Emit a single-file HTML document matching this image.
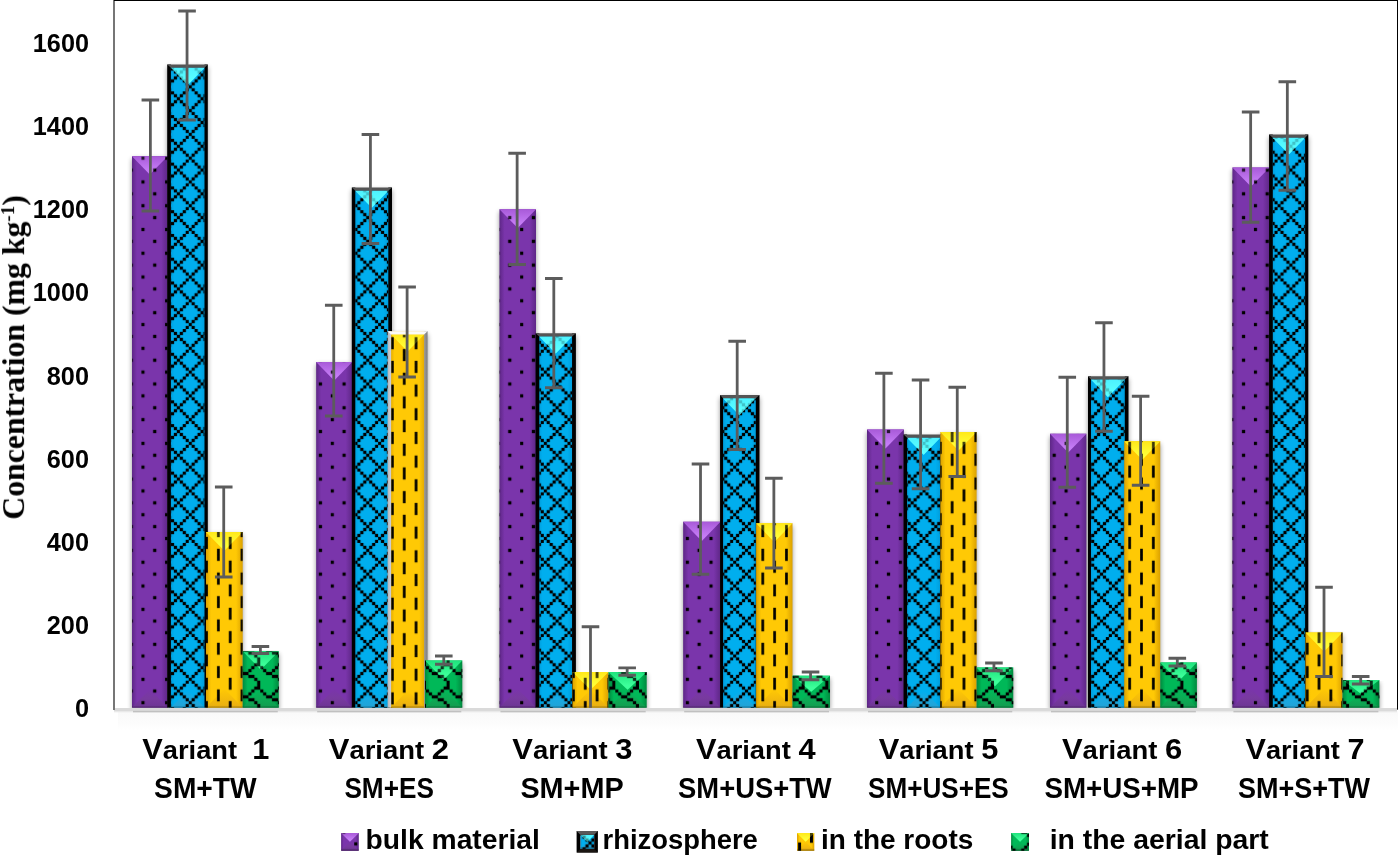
<!DOCTYPE html>
<html><head><meta charset="utf-8"><title>chart</title>
<style>
html,body{margin:0;padding:0;background:#fff;}
body{width:1398px;height:856px;overflow:hidden;}
svg{display:block;}
text{font-family:"Liberation Sans",sans-serif;font-weight:bold;fill:#000;}
</style></head><body>
<svg width="1398" height="856" viewBox="0 0 1398 856">
<defs>
<pattern id="pp1" patternUnits="userSpaceOnUse" width="23.67" height="23.77" patternTransform="translate(-0.6 -3.76)">
<rect x="11.685" y="5.792" width="3.259" height="3.271" fill="#000"/>
<rect x="-0.150" y="17.678" width="3.259" height="3.271" fill="#000"/>
</pattern>
<pattern id="pb1" patternUnits="userSpaceOnUse" width="23.67" height="23.77" patternTransform="translate(-0.6 -3.76)">
<rect x="5.768" y="-0.150" width="3.259" height="3.271" fill="#000"/>
<rect x="17.603" y="-0.150" width="3.259" height="3.271" fill="#000"/>
<rect x="8.726" y="2.821" width="3.259" height="3.271" fill="#000"/>
<rect x="14.644" y="2.821" width="3.259" height="3.271" fill="#000"/>
<rect x="11.685" y="5.792" width="3.259" height="3.271" fill="#000"/>
<rect x="8.726" y="8.764" width="3.259" height="3.271" fill="#000"/>
<rect x="14.644" y="8.764" width="3.259" height="3.271" fill="#000"/>
<rect x="5.768" y="11.735" width="3.259" height="3.271" fill="#000"/>
<rect x="17.603" y="11.735" width="3.259" height="3.271" fill="#000"/>
<rect x="2.809" y="14.706" width="3.259" height="3.271" fill="#000"/>
<rect x="20.561" y="14.706" width="3.259" height="3.271" fill="#000"/>
<rect x="-0.150" y="17.678" width="3.259" height="3.271" fill="#000"/>
<rect x="2.809" y="20.649" width="3.259" height="3.271" fill="#000"/>
<rect x="20.561" y="20.649" width="3.259" height="3.271" fill="#000"/>
</pattern>
<pattern id="py1" patternUnits="userSpaceOnUse" width="23.67" height="23.77" patternTransform="translate(0.9 -3.76)">
<rect x="14.944" y="-0.150" width="2.659" height="3.271" fill="#000"/>
<rect x="14.944" y="2.821" width="2.659" height="3.271" fill="#000"/>
<rect x="3.109" y="5.792" width="2.659" height="3.271" fill="#000"/>
<rect x="3.109" y="8.764" width="2.659" height="3.271" fill="#000"/>
<rect x="3.109" y="11.735" width="2.659" height="3.271" fill="#000"/>
<rect x="3.109" y="14.706" width="2.659" height="3.271" fill="#000"/>
<rect x="14.944" y="17.678" width="2.659" height="3.271" fill="#000"/>
<rect x="14.944" y="20.649" width="2.659" height="3.271" fill="#000"/>
</pattern>
<pattern id="pg1" patternUnits="userSpaceOnUse" width="23.67" height="23.77" patternTransform="translate(-0.1 -3.76)">
<rect x="20.561" y="-0.150" width="3.259" height="3.271" fill="#000"/>
<rect x="17.603" y="2.821" width="6.218" height="3.271" fill="#000"/>
<rect x="-0.150" y="5.792" width="3.259" height="3.271" fill="#000"/>
<rect x="14.644" y="5.792" width="3.259" height="3.271" fill="#000"/>
<rect x="2.809" y="8.764" width="3.259" height="3.271" fill="#000"/>
<rect x="11.685" y="8.764" width="3.259" height="3.271" fill="#000"/>
<rect x="5.768" y="11.735" width="6.218" height="3.271" fill="#000"/>
<rect x="11.685" y="14.706" width="6.218" height="3.271" fill="#000"/>
<rect x="17.603" y="17.678" width="3.259" height="3.271" fill="#000"/>
<rect x="20.561" y="20.649" width="3.259" height="3.271" fill="#000"/>
</pattern>
<pattern id="pp2" patternUnits="userSpaceOnUse" width="23.67" height="23.33" patternTransform="translate(-0.6 567.08)">
<rect x="11.685" y="5.682" width="3.259" height="3.216" fill="#000"/>
<rect x="-0.150" y="17.348" width="3.259" height="3.216" fill="#000"/>
</pattern>
<pattern id="pb2" patternUnits="userSpaceOnUse" width="23.67" height="23.33" patternTransform="translate(-0.6 567.08)">
<rect x="5.768" y="-0.150" width="3.259" height="3.216" fill="#000"/>
<rect x="17.603" y="-0.150" width="3.259" height="3.216" fill="#000"/>
<rect x="8.726" y="2.766" width="3.259" height="3.216" fill="#000"/>
<rect x="14.644" y="2.766" width="3.259" height="3.216" fill="#000"/>
<rect x="11.685" y="5.682" width="3.259" height="3.216" fill="#000"/>
<rect x="8.726" y="8.599" width="3.259" height="3.216" fill="#000"/>
<rect x="14.644" y="8.599" width="3.259" height="3.216" fill="#000"/>
<rect x="5.768" y="11.515" width="3.259" height="3.216" fill="#000"/>
<rect x="17.603" y="11.515" width="3.259" height="3.216" fill="#000"/>
<rect x="2.809" y="14.431" width="3.259" height="3.216" fill="#000"/>
<rect x="20.561" y="14.431" width="3.259" height="3.216" fill="#000"/>
<rect x="-0.150" y="17.348" width="3.259" height="3.216" fill="#000"/>
<rect x="2.809" y="20.264" width="3.259" height="3.216" fill="#000"/>
<rect x="20.561" y="20.264" width="3.259" height="3.216" fill="#000"/>
</pattern>
<pattern id="py2" patternUnits="userSpaceOnUse" width="23.67" height="23.33" patternTransform="translate(0.9 567.08)">
<rect x="14.944" y="-0.150" width="2.659" height="3.216" fill="#000"/>
<rect x="14.944" y="2.766" width="2.659" height="3.216" fill="#000"/>
<rect x="3.109" y="5.682" width="2.659" height="3.216" fill="#000"/>
<rect x="3.109" y="8.599" width="2.659" height="3.216" fill="#000"/>
<rect x="3.109" y="11.515" width="2.659" height="3.216" fill="#000"/>
<rect x="3.109" y="14.431" width="2.659" height="3.216" fill="#000"/>
<rect x="14.944" y="17.348" width="2.659" height="3.216" fill="#000"/>
<rect x="14.944" y="20.264" width="2.659" height="3.216" fill="#000"/>
</pattern>
<pattern id="pg2" patternUnits="userSpaceOnUse" width="23.67" height="23.33" patternTransform="translate(-0.1 567.08)">
<rect x="20.561" y="-0.150" width="3.259" height="3.216" fill="#000"/>
<rect x="17.603" y="2.766" width="6.218" height="3.216" fill="#000"/>
<rect x="-0.150" y="5.682" width="3.259" height="3.216" fill="#000"/>
<rect x="14.644" y="5.682" width="3.259" height="3.216" fill="#000"/>
<rect x="2.809" y="8.599" width="3.259" height="3.216" fill="#000"/>
<rect x="11.685" y="8.599" width="3.259" height="3.216" fill="#000"/>
<rect x="5.768" y="11.515" width="6.218" height="3.216" fill="#000"/>
<rect x="11.685" y="14.431" width="6.218" height="3.216" fill="#000"/>
<rect x="17.603" y="17.348" width="3.259" height="3.216" fill="#000"/>
<rect x="20.561" y="20.264" width="3.259" height="3.216" fill="#000"/>
</pattern>
<linearGradient id="hp" x1="0" x2="1" y1="0" y2="0"><stop offset="0" stop-color="#5e2787"/><stop offset="0.14" stop-color="#7a35ab"/><stop offset="0.5" stop-color="#7a35ab"/><stop offset="0.82" stop-color="#7a35ab"/><stop offset="1" stop-color="#5e2787"/></linearGradient>
<linearGradient id="tp" x1="0" x2="0" y1="0" y2="1"><stop offset="0" stop-color="#a85ad8"/><stop offset="0.75" stop-color="#c57cf6"/><stop offset="1" stop-color="#c57cf6"/></linearGradient>
<linearGradient id="hb" x1="0" x2="1" y1="0" y2="0"><stop offset="0" stop-color="#0098d6"/><stop offset="0.14" stop-color="#00aeee"/><stop offset="0.5" stop-color="#00aeee"/><stop offset="0.82" stop-color="#00aeee"/><stop offset="1" stop-color="#0098d6"/></linearGradient>
<linearGradient id="tb" x1="0" x2="0" y1="0" y2="1"><stop offset="0" stop-color="#4df2ff"/><stop offset="0.75" stop-color="#5affff"/><stop offset="1" stop-color="#5affff"/></linearGradient>
<linearGradient id="hy" x1="0" x2="1" y1="0" y2="0"><stop offset="0" stop-color="#dba100"/><stop offset="0.14" stop-color="#ffc905"/><stop offset="0.5" stop-color="#ffc905"/><stop offset="0.82" stop-color="#ffc905"/><stop offset="1" stop-color="#dba100"/></linearGradient>
<linearGradient id="ty" x1="0" x2="0" y1="0" y2="1"><stop offset="0" stop-color="#ffe81a"/><stop offset="0.75" stop-color="#ffff38"/><stop offset="1" stop-color="#ffff38"/></linearGradient>
<linearGradient id="hg" x1="0" x2="1" y1="0" y2="0"><stop offset="0" stop-color="#008a3e"/><stop offset="0.14" stop-color="#00b858"/><stop offset="0.5" stop-color="#00b858"/><stop offset="0.82" stop-color="#00b858"/><stop offset="1" stop-color="#008a3e"/></linearGradient>
<linearGradient id="tg" x1="0" x2="0" y1="0" y2="1"><stop offset="0" stop-color="#1fe37d"/><stop offset="0.75" stop-color="#3dff9a"/><stop offset="1" stop-color="#3dff9a"/></linearGradient>
<filter id="sh" x="-30%" y="-5%" width="160%" height="110%"><feGaussianBlur stdDeviation="2.4"/></filter>
<linearGradient id="ff" x1="0" x2="0" y1="0" y2="1"><stop offset="0" stop-color="#f9f9f9"/><stop offset="0.6" stop-color="#fcfcfc"/><stop offset="1" stop-color="#ffffff"/></linearGradient>
<filter id="sh1" x="-5%" y="-200%" width="110%" height="500%"><feGaussianBlur stdDeviation="0.7"/></filter>
<linearGradient id="lip" x1="0" x2="0" y1="0" y2="1"><stop offset="0" stop-color="#000" stop-opacity="0"/><stop offset="1" stop-color="#000" stop-opacity="0.28"/></linearGradient>
<linearGradient id="gbl" x1="0" x2="1" y1="0" y2="0"><stop offset="0" stop-color="#b4b4b4"/><stop offset="1" stop-color="#d2d2dc"/></linearGradient>
<linearGradient id="gbr" x1="0" x2="1" y1="0" y2="0"><stop offset="0" stop-color="#9a9a9a"/><stop offset="1" stop-color="#7e7e7e"/></linearGradient>
<linearGradient id="btp" x1="0" x2="0" y1="0" y2="1"><stop offset="0" stop-color="#7a35ab"/><stop offset="0.5" stop-color="#783a9f"/><stop offset="1" stop-color="#6d3594"/></linearGradient>
<linearGradient id="btb" x1="0" x2="0" y1="0" y2="1"><stop offset="0" stop-color="#00aeee"/><stop offset="0.5" stop-color="#18a9e2"/><stop offset="1" stop-color="#23a3d6"/></linearGradient>
<linearGradient id="bty" x1="0" x2="0" y1="0" y2="1"><stop offset="0" stop-color="#ffc905"/><stop offset="0.5" stop-color="#f5bc0a"/><stop offset="1" stop-color="#e8ae12"/></linearGradient>
<linearGradient id="btg" x1="0" x2="0" y1="0" y2="1"><stop offset="0" stop-color="#00b858"/><stop offset="0.5" stop-color="#0cab55"/><stop offset="1" stop-color="#129c50"/></linearGradient>
<pattern id="pyS" patternUnits="userSpaceOnUse" width="23.67" height="23.68" patternTransform="translate(387.96 331.38)">
<rect x="14.944" y="-0.150" width="2.659" height="3.260" fill="#000"/>
<rect x="14.944" y="2.810" width="2.659" height="3.260" fill="#000"/>
<rect x="3.109" y="5.770" width="2.659" height="3.260" fill="#000"/>
<rect x="3.109" y="8.730" width="2.659" height="3.260" fill="#000"/>
<rect x="3.109" y="11.690" width="2.659" height="3.260" fill="#000"/>
<rect x="3.109" y="14.650" width="2.659" height="3.260" fill="#000"/>
<rect x="14.944" y="17.610" width="2.659" height="3.260" fill="#000"/>
<rect x="14.944" y="20.570" width="2.659" height="3.260" fill="#000"/>
</pattern>
<clipPath id="plotclip"><rect x="0" y="0" width="1398" height="707.8"/></clipPath>
<linearGradient id="lip2" x1="0" x2="0" y1="0" y2="1"><stop offset="0" stop-color="#000" stop-opacity="0"/><stop offset="1" stop-color="#000" stop-opacity="0.38"/></linearGradient>
<pattern id="ppL" patternUnits="userSpaceOnUse" width="23.67" height="23.67" patternTransform="translate(354.22 824.67)">
<rect x="11.685" y="5.768" width="3.259" height="3.259" fill="#000"/>
<rect x="-0.150" y="17.603" width="3.259" height="3.259" fill="#000"/>
</pattern>
<pattern id="pbL" patternUnits="userSpaceOnUse" width="23.67" height="23.67" patternTransform="translate(576.7 835.6)">
<rect x="5.768" y="-0.150" width="3.259" height="3.259" fill="#000"/>
<rect x="17.603" y="-0.150" width="3.259" height="3.259" fill="#000"/>
<rect x="8.726" y="2.809" width="3.259" height="3.259" fill="#000"/>
<rect x="14.644" y="2.809" width="3.259" height="3.259" fill="#000"/>
<rect x="11.685" y="5.768" width="3.259" height="3.259" fill="#000"/>
<rect x="8.726" y="8.726" width="3.259" height="3.259" fill="#000"/>
<rect x="14.644" y="8.726" width="3.259" height="3.259" fill="#000"/>
<rect x="5.768" y="11.685" width="3.259" height="3.259" fill="#000"/>
<rect x="17.603" y="11.685" width="3.259" height="3.259" fill="#000"/>
<rect x="2.809" y="14.644" width="3.259" height="3.259" fill="#000"/>
<rect x="20.561" y="14.644" width="3.259" height="3.259" fill="#000"/>
<rect x="-0.150" y="17.603" width="3.259" height="3.259" fill="#000"/>
<rect x="2.809" y="20.561" width="3.259" height="3.259" fill="#000"/>
<rect x="20.561" y="20.561" width="3.259" height="3.259" fill="#000"/>
</pattern>
<pattern id="pyL" patternUnits="userSpaceOnUse" width="23.67" height="23.67" patternTransform="translate(795.18 836.7)">
<rect x="14.794" y="-0.150" width="2.959" height="3.259" fill="#000"/>
<rect x="14.794" y="2.809" width="2.959" height="3.259" fill="#000"/>
<rect x="2.959" y="5.768" width="2.959" height="3.259" fill="#000"/>
<rect x="2.959" y="8.726" width="2.959" height="3.259" fill="#000"/>
<rect x="2.959" y="11.685" width="2.959" height="3.259" fill="#000"/>
<rect x="2.959" y="14.644" width="2.959" height="3.259" fill="#000"/>
<rect x="14.794" y="17.603" width="2.959" height="3.259" fill="#000"/>
<rect x="14.794" y="20.561" width="2.959" height="3.259" fill="#000"/>
</pattern>
<pattern id="pgL" patternUnits="userSpaceOnUse" width="23.67" height="23.67" patternTransform="translate(1009.5 816.14)">
<rect x="20.561" y="-0.150" width="3.259" height="3.259" fill="#000"/>
<rect x="17.603" y="2.809" width="6.218" height="3.259" fill="#000"/>
<rect x="-0.150" y="5.768" width="3.259" height="3.259" fill="#000"/>
<rect x="14.644" y="5.768" width="3.259" height="3.259" fill="#000"/>
<rect x="2.809" y="8.726" width="3.259" height="3.259" fill="#000"/>
<rect x="11.685" y="8.726" width="3.259" height="3.259" fill="#000"/>
<rect x="5.768" y="11.685" width="6.218" height="3.259" fill="#000"/>
<rect x="11.685" y="14.644" width="6.218" height="3.259" fill="#000"/>
<rect x="17.603" y="17.603" width="3.259" height="3.259" fill="#000"/>
<rect x="20.561" y="20.561" width="3.259" height="3.259" fill="#000"/>
</pattern>
</defs>
<rect width="1398" height="856" fill="#fff"/>
<rect x="132.00" y="158.70" width="35.60" height="551.90" fill="#000" opacity="0.42" filter="url(#sh)"/>
<rect x="167.20" y="67.00" width="40.60" height="643.60" fill="#000" opacity="0.42" filter="url(#sh)"/>
<rect x="206.00" y="534.50" width="36.70" height="176.10" fill="#000" opacity="0.42" filter="url(#sh)"/>
<rect x="242.70" y="653.70" width="36.10" height="56.90" fill="#000" opacity="0.42" filter="url(#sh)"/>
<rect x="316.16" y="364.50" width="36.04" height="346.10" fill="#000" opacity="0.42" filter="url(#sh)"/>
<rect x="351.80" y="190.00" width="40.20" height="520.60" fill="#000" opacity="0.42" filter="url(#sh)"/>
<rect x="387.60" y="334.00" width="39.95" height="376.60" fill="#000" opacity="0.42" filter="url(#sh)"/>
<rect x="425.00" y="663.00" width="37.30" height="47.60" fill="#000" opacity="0.42" filter="url(#sh)"/>
<rect x="499.44" y="211.75" width="36.56" height="498.85" fill="#000" opacity="0.42" filter="url(#sh)"/>
<rect x="535.55" y="335.80" width="40.35" height="374.80" fill="#000" opacity="0.42" filter="url(#sh)"/>
<rect x="572.50" y="674.60" width="36.00" height="36.00" fill="#000" opacity="0.42" filter="url(#sh)"/>
<rect x="608.50" y="674.60" width="38.20" height="36.00" fill="#000" opacity="0.42" filter="url(#sh)"/>
<rect x="683.15" y="524.25" width="37.25" height="186.35" fill="#000" opacity="0.42" filter="url(#sh)"/>
<rect x="720.06" y="397.60" width="39.44" height="313.00" fill="#000" opacity="0.42" filter="url(#sh)"/>
<rect x="756.10" y="525.75" width="36.40" height="184.85" fill="#000" opacity="0.42" filter="url(#sh)"/>
<rect x="792.50" y="678.25" width="37.50" height="32.35" fill="#000" opacity="0.42" filter="url(#sh)"/>
<rect x="867.00" y="432.00" width="36.90" height="278.60" fill="#000" opacity="0.42" filter="url(#sh)"/>
<rect x="903.50" y="437.00" width="40.40" height="273.60" fill="#000" opacity="0.42" filter="url(#sh)"/>
<rect x="940.35" y="434.50" width="36.25" height="276.10" fill="#000" opacity="0.42" filter="url(#sh)"/>
<rect x="976.60" y="670.00" width="36.66" height="40.60" fill="#000" opacity="0.42" filter="url(#sh)"/>
<rect x="1050.00" y="436.25" width="36.40" height="274.35" fill="#000" opacity="0.42" filter="url(#sh)"/>
<rect x="1088.00" y="378.80" width="40.50" height="331.80" fill="#000" opacity="0.42" filter="url(#sh)"/>
<rect x="1124.20" y="443.75" width="36.06" height="266.85" fill="#000" opacity="0.42" filter="url(#sh)"/>
<rect x="1160.26" y="665.00" width="36.64" height="45.60" fill="#000" opacity="0.42" filter="url(#sh)"/>
<rect x="1232.40" y="170.00" width="37.10" height="540.60" fill="#000" opacity="0.42" filter="url(#sh)"/>
<rect x="1269.06" y="137.00" width="39.24" height="573.60" fill="#000" opacity="0.42" filter="url(#sh)"/>
<rect x="1305.50" y="635.00" width="37.00" height="75.60" fill="#000" opacity="0.42" filter="url(#sh)"/>
<rect x="1342.50" y="682.50" width="36.90" height="28.10" fill="#000" opacity="0.42" filter="url(#sh)"/>
<rect x="118" y="711.5" width="1280" height="19" fill="url(#ff)"/>
<rect x="114.0" y="708.0" width="1283.0" height="3.0" fill="#dadada"/>
<rect x="114.0" y="711" width="1283.0" height="1.3" fill="#e9e9e9"/>
<rect x="133.00" y="710.9" width="144.80" height="1.5" fill="#000" opacity="0.17" filter="url(#sh1)"/>
<rect x="317.16" y="710.9" width="144.14" height="1.5" fill="#000" opacity="0.17" filter="url(#sh1)"/>
<rect x="500.44" y="710.9" width="145.26" height="1.5" fill="#000" opacity="0.17" filter="url(#sh1)"/>
<rect x="684.15" y="710.9" width="144.85" height="1.5" fill="#000" opacity="0.17" filter="url(#sh1)"/>
<rect x="868.00" y="710.9" width="144.26" height="1.5" fill="#000" opacity="0.17" filter="url(#sh1)"/>
<rect x="1051.00" y="710.9" width="144.90" height="1.5" fill="#000" opacity="0.17" filter="url(#sh1)"/>
<rect x="1233.40" y="710.9" width="145.00" height="1.5" fill="#000" opacity="0.17" filter="url(#sh1)"/>
<rect x="132.00" y="156.20" width="35.60" height="551.40" fill="url(#hp)"/>
<polygon points="132.00,707.60 167.60,707.60 149.80,689.30" fill="url(#btp)"/>
<polygon points="132.00,156.20 167.60,156.20 149.80,174.50" fill="url(#tp)"/>
<rect x="132.00" y="156.20" width="35.60" height="431.80" fill="url(#pp1)"/>
<rect x="132.00" y="588.00" width="35.60" height="119.60" fill="url(#pp2)"/>
<polygon points="132.00,156.20 167.60,156.20 149.80,174.50" fill="url(#tp)" opacity="0.22"/>
<rect x="132.00" y="705.40" width="35.60" height="2.2" fill="url(#lip)"/>
<rect x="169.05" y="66.20" width="37.10" height="641.40" fill="url(#hb)"/>
<polygon points="170.90,707.60 204.50,707.60 187.70,690.30" fill="url(#btb)"/>
<polygon points="170.90,67.70 204.50,67.70 187.70,85.00" fill="url(#tb)"/>
<rect x="170.90" y="67.70" width="33.60" height="520.30" fill="url(#pb1)"/>
<rect x="170.90" y="588.00" width="33.60" height="119.60" fill="url(#pb2)"/>
<polygon points="170.90,67.70 204.50,67.70 187.70,85.00" fill="url(#tb)" opacity="0.78"/>
<rect x="170.90" y="705.40" width="33.60" height="2.2" fill="url(#lip)"/>
<rect x="167.20" y="64.50" width="3.70" height="643.10" fill="#000"/>
<rect x="204.50" y="64.50" width="3.30" height="643.10" fill="#000"/>
<polygon points="167.20,64.50 207.80,64.50 204.50,67.70 170.90,67.70" fill="#555"/>
<rect x="206.00" y="532.00" width="36.70" height="175.60" fill="url(#hy)"/>
<polygon points="206.00,707.60 242.70,707.60 224.35,688.75" fill="url(#bty)"/>
<polygon points="206.00,532.00 242.70,532.00 224.35,550.85" fill="url(#ty)"/>
<rect x="206.00" y="532.00" width="36.70" height="56.00" fill="url(#py1)"/>
<rect x="206.00" y="588.00" width="36.70" height="119.60" fill="url(#py2)"/>
<polygon points="206.00,532.00 242.70,532.00 224.35,550.85" fill="url(#ty)" opacity="0.22"/>
<rect x="206.00" y="705.40" width="36.70" height="2.2" fill="url(#lip)"/>
<rect x="242.70" y="651.20" width="36.10" height="56.40" fill="url(#hg)"/>
<polygon points="242.70,707.60 278.80,707.60 260.75,689.05" fill="url(#btg)"/>
<polygon points="242.70,651.20 278.80,651.20 260.75,669.75" fill="url(#tg)"/>
<rect x="242.70" y="651.20" width="36.10" height="56.40" fill="url(#pg2)"/>
<polygon points="242.70,651.20 278.80,651.20 260.75,669.75" fill="url(#tg)" opacity="0.22"/>
<rect x="242.70" y="705.40" width="36.10" height="2.2" fill="url(#lip)"/>
<rect x="316.16" y="362.00" width="36.04" height="345.60" fill="url(#hp)"/>
<polygon points="316.16,707.60 352.20,707.60 334.18,689.08" fill="url(#btp)"/>
<polygon points="316.16,362.00 352.20,362.00 334.18,380.52" fill="url(#tp)"/>
<rect x="316.16" y="362.00" width="36.04" height="226.00" fill="url(#pp1)"/>
<rect x="316.16" y="588.00" width="36.04" height="119.60" fill="url(#pp2)"/>
<polygon points="316.16,362.00 352.20,362.00 334.18,380.52" fill="url(#tp)" opacity="0.22"/>
<rect x="316.16" y="705.40" width="36.04" height="2.2" fill="url(#lip)"/>
<rect x="353.55" y="189.20" width="36.60" height="518.40" fill="url(#hb)"/>
<polygon points="355.30,707.60 388.30,707.60 371.80,690.60" fill="url(#btb)"/>
<polygon points="355.30,190.70 388.30,190.70 371.80,207.70" fill="url(#tb)"/>
<rect x="355.30" y="190.70" width="33.00" height="397.30" fill="url(#pb1)"/>
<rect x="355.30" y="588.00" width="33.00" height="119.60" fill="url(#pb2)"/>
<polygon points="355.30,190.70 388.30,190.70 371.80,207.70" fill="url(#tb)" opacity="0.78"/>
<rect x="355.30" y="705.40" width="33.00" height="2.2" fill="url(#lip)"/>
<rect x="351.80" y="187.50" width="3.50" height="520.10" fill="#000"/>
<rect x="388.30" y="187.50" width="3.70" height="520.10" fill="#000"/>
<polygon points="351.80,187.50 392.00,187.50 388.30,190.70 355.30,190.70" fill="#555"/>
<rect x="389.35" y="331.50" width="36.45" height="376.10" fill="url(#hy)"/>
<polygon points="391.10,707.60 424.10,707.60 407.60,690.60" fill="url(#bty)"/>
<polygon points="391.10,334.60 424.10,334.60 407.60,351.60" fill="url(#ty)"/>
<rect x="391.10" y="334.60" width="33.00" height="373.00" fill="url(#pyS)"/>
<polygon points="391.10,334.60 424.10,334.60 407.60,351.60" fill="url(#ty)" opacity="0.22"/>
<rect x="391.10" y="705.40" width="33.00" height="2.2" fill="url(#lip)"/>
<rect x="387.6" y="331.2" width="3.50" height="376.40" fill="url(#gbl)"/>
<rect x="424.1" y="331.2" width="3.45" height="376.40" fill="url(#gbr)"/>
<polygon points="387.6,331.2 427.55,331.2 424.1,334.6 391.1,334.6" fill="#fbfbfb"/>
<rect x="425.00" y="660.50" width="37.30" height="47.10" fill="url(#hg)"/>
<polygon points="425.00,707.60 462.30,707.60 443.65,688.45" fill="url(#btg)"/>
<polygon points="425.00,660.50 462.30,660.50 443.65,679.65" fill="url(#tg)"/>
<rect x="425.00" y="660.50" width="37.30" height="47.10" fill="url(#pg2)"/>
<polygon points="425.00,660.50 462.30,660.50 443.65,679.65" fill="url(#tg)" opacity="0.22"/>
<rect x="425.00" y="705.40" width="37.30" height="2.2" fill="url(#lip)"/>
<rect x="499.44" y="209.25" width="36.56" height="498.35" fill="url(#hp)"/>
<polygon points="499.44,707.60 536.00,707.60 517.72,688.82" fill="url(#btp)"/>
<polygon points="499.44,209.25 536.00,209.25 517.72,228.03" fill="url(#tp)"/>
<rect x="499.44" y="209.25" width="36.56" height="378.75" fill="url(#pp1)"/>
<rect x="499.44" y="588.00" width="36.56" height="119.60" fill="url(#pp2)"/>
<polygon points="499.44,209.25 536.00,209.25 517.72,228.03" fill="url(#tp)" opacity="0.22"/>
<rect x="499.44" y="705.40" width="36.56" height="2.2" fill="url(#lip)"/>
<rect x="537.42" y="335.00" width="36.56" height="372.60" fill="url(#hb)"/>
<polygon points="539.30,707.60 572.06,707.60 555.68,690.72" fill="url(#btb)"/>
<polygon points="539.30,336.50 572.06,336.50 555.68,353.38" fill="url(#tb)"/>
<rect x="539.30" y="336.50" width="32.76" height="251.50" fill="url(#pb1)"/>
<rect x="539.30" y="588.00" width="32.76" height="119.60" fill="url(#pb2)"/>
<polygon points="539.30,336.50 572.06,336.50 555.68,353.38" fill="url(#tb)" opacity="0.78"/>
<rect x="539.30" y="705.40" width="32.76" height="2.2" fill="url(#lip)"/>
<rect x="535.55" y="333.30" width="3.75" height="374.30" fill="#000"/>
<rect x="572.06" y="333.30" width="3.84" height="374.30" fill="#000"/>
<polygon points="535.55,333.30 575.90,333.30 572.06,336.50 539.30,336.50" fill="#555"/>
<rect x="572.50" y="672.10" width="36.00" height="35.50" fill="url(#hy)"/>
<polygon points="572.50,707.60 608.50,707.60 590.50,689.85" fill="url(#bty)"/>
<polygon points="572.50,672.10 608.50,672.10 590.50,689.85" fill="url(#ty)"/>
<rect x="572.50" y="672.10" width="36.00" height="35.50" fill="url(#py2)"/>
<polygon points="572.50,672.10 608.50,672.10 590.50,689.85" fill="url(#ty)" opacity="0.22"/>
<rect x="572.50" y="705.40" width="36.00" height="2.2" fill="url(#lip)"/>
<rect x="608.50" y="672.10" width="38.20" height="35.50" fill="url(#hg)"/>
<polygon points="608.50,707.60 646.70,707.60 627.60,689.85" fill="url(#btg)"/>
<polygon points="608.50,672.10 646.70,672.10 627.60,689.85" fill="url(#tg)"/>
<rect x="608.50" y="672.10" width="38.20" height="35.50" fill="url(#pg2)"/>
<polygon points="608.50,672.10 646.70,672.10 627.60,689.85" fill="url(#tg)" opacity="0.22"/>
<rect x="608.50" y="705.40" width="38.20" height="2.2" fill="url(#lip)"/>
<rect x="683.15" y="521.75" width="37.25" height="185.85" fill="url(#hp)"/>
<polygon points="683.15,707.60 720.40,707.60 701.77,688.48" fill="url(#btp)"/>
<polygon points="683.15,521.75 720.40,521.75 701.77,540.88" fill="url(#tp)"/>
<rect x="683.15" y="521.75" width="37.25" height="66.25" fill="url(#pp1)"/>
<rect x="683.15" y="588.00" width="37.25" height="119.60" fill="url(#pp2)"/>
<polygon points="683.15,521.75 720.40,521.75 701.77,540.88" fill="url(#tp)" opacity="0.22"/>
<rect x="683.15" y="705.40" width="37.25" height="2.2" fill="url(#lip)"/>
<rect x="721.57" y="396.80" width="36.08" height="310.80" fill="url(#hb)"/>
<polygon points="723.07,707.60 755.80,707.60 739.43,690.74" fill="url(#btb)"/>
<polygon points="723.07,398.30 755.80,398.30 739.43,415.16" fill="url(#tb)"/>
<rect x="723.07" y="398.30" width="32.73" height="189.70" fill="url(#pb1)"/>
<rect x="723.07" y="588.00" width="32.73" height="119.60" fill="url(#pb2)"/>
<polygon points="723.07,398.30 755.80,398.30 739.43,415.16" fill="url(#tb)" opacity="0.78"/>
<rect x="723.07" y="705.40" width="32.73" height="2.2" fill="url(#lip)"/>
<rect x="720.06" y="395.10" width="3.01" height="312.50" fill="#000"/>
<rect x="755.80" y="395.10" width="3.70" height="312.50" fill="#000"/>
<polygon points="720.06,395.10 759.50,395.10 755.80,398.30 723.07,398.30" fill="#555"/>
<rect x="756.10" y="523.25" width="36.40" height="184.35" fill="url(#hy)"/>
<polygon points="756.10,707.60 792.50,707.60 774.30,688.90" fill="url(#bty)"/>
<polygon points="756.10,523.25 792.50,523.25 774.30,541.95" fill="url(#ty)"/>
<rect x="756.10" y="523.25" width="36.40" height="64.75" fill="url(#py1)"/>
<rect x="756.10" y="588.00" width="36.40" height="119.60" fill="url(#py2)"/>
<polygon points="756.10,523.25 792.50,523.25 774.30,541.95" fill="url(#ty)" opacity="0.22"/>
<rect x="756.10" y="705.40" width="36.40" height="2.2" fill="url(#lip)"/>
<rect x="792.50" y="675.75" width="37.50" height="31.85" fill="url(#hg)"/>
<polygon points="792.50,707.60 830.00,707.60 811.25,691.67" fill="url(#btg)"/>
<polygon points="792.50,675.75 830.00,675.75 811.25,691.67" fill="url(#tg)"/>
<rect x="792.50" y="675.75" width="37.50" height="31.85" fill="url(#pg2)"/>
<polygon points="792.50,675.75 830.00,675.75 811.25,691.67" fill="url(#tg)" opacity="0.22"/>
<rect x="792.50" y="705.40" width="37.50" height="2.2" fill="url(#lip)"/>
<rect x="867.00" y="429.50" width="36.90" height="278.10" fill="url(#hp)"/>
<polygon points="867.00,707.60 903.90,707.60 885.45,688.65" fill="url(#btp)"/>
<polygon points="867.00,429.50 903.90,429.50 885.45,448.45" fill="url(#tp)"/>
<rect x="867.00" y="429.50" width="36.90" height="158.50" fill="url(#pp1)"/>
<rect x="867.00" y="588.00" width="36.90" height="119.60" fill="url(#pp2)"/>
<polygon points="867.00,429.50 903.90,429.50 885.45,448.45" fill="url(#tp)" opacity="0.22"/>
<rect x="867.00" y="705.40" width="36.90" height="2.2" fill="url(#lip)"/>
<rect x="905.30" y="436.20" width="36.75" height="271.40" fill="url(#hb)"/>
<polygon points="907.10,707.60 940.20,707.60 923.65,690.55" fill="url(#btb)"/>
<polygon points="907.10,437.70 940.20,437.70 923.65,454.75" fill="url(#tb)"/>
<rect x="907.10" y="437.70" width="33.10" height="150.30" fill="url(#pb1)"/>
<rect x="907.10" y="588.00" width="33.10" height="119.60" fill="url(#pb2)"/>
<polygon points="907.10,437.70 940.20,437.70 923.65,454.75" fill="url(#tb)" opacity="0.78"/>
<rect x="907.10" y="705.40" width="33.10" height="2.2" fill="url(#lip)"/>
<rect x="903.50" y="434.50" width="3.60" height="273.10" fill="#000"/>
<rect x="940.20" y="434.50" width="3.70" height="273.10" fill="#000"/>
<polygon points="903.50,434.50 943.90,434.50 940.20,437.70 907.10,437.70" fill="#555"/>
<rect x="940.35" y="432.00" width="36.25" height="275.60" fill="url(#hy)"/>
<polygon points="940.35,707.60 976.60,707.60 958.48,688.98" fill="url(#bty)"/>
<polygon points="940.35,432.00 976.60,432.00 958.48,450.62" fill="url(#ty)"/>
<rect x="940.35" y="432.00" width="36.25" height="156.00" fill="url(#py1)"/>
<rect x="940.35" y="588.00" width="36.25" height="119.60" fill="url(#py2)"/>
<polygon points="940.35,432.00 976.60,432.00 958.48,450.62" fill="url(#ty)" opacity="0.22"/>
<rect x="940.35" y="705.40" width="36.25" height="2.2" fill="url(#lip)"/>
<rect x="976.60" y="667.50" width="36.66" height="40.10" fill="url(#hg)"/>
<polygon points="976.60,707.60 1013.26,707.60 994.93,688.77" fill="url(#btg)"/>
<polygon points="976.60,667.50 1013.26,667.50 994.93,686.33" fill="url(#tg)"/>
<rect x="976.60" y="667.50" width="36.66" height="40.10" fill="url(#pg2)"/>
<polygon points="976.60,667.50 1013.26,667.50 994.93,686.33" fill="url(#tg)" opacity="0.22"/>
<rect x="976.60" y="705.40" width="36.66" height="2.2" fill="url(#lip)"/>
<rect x="1050.00" y="433.75" width="36.40" height="273.85" fill="url(#hp)"/>
<polygon points="1050.00,707.60 1086.40,707.60 1068.20,688.90" fill="url(#btp)"/>
<polygon points="1050.00,433.75 1086.40,433.75 1068.20,452.45" fill="url(#tp)"/>
<rect x="1050.00" y="433.75" width="36.40" height="154.25" fill="url(#pp1)"/>
<rect x="1050.00" y="588.00" width="36.40" height="119.60" fill="url(#pp2)"/>
<polygon points="1050.00,433.75 1086.40,433.75 1068.20,452.45" fill="url(#tp)" opacity="0.22"/>
<rect x="1050.00" y="705.40" width="36.40" height="2.2" fill="url(#lip)"/>
<rect x="1089.50" y="378.00" width="37.15" height="329.60" fill="url(#hb)"/>
<polygon points="1091.00,707.60 1124.80,707.60 1107.90,690.20" fill="url(#btb)"/>
<polygon points="1091.00,379.50 1124.80,379.50 1107.90,396.90" fill="url(#tb)"/>
<rect x="1091.00" y="379.50" width="33.80" height="208.50" fill="url(#pb1)"/>
<rect x="1091.00" y="588.00" width="33.80" height="119.60" fill="url(#pb2)"/>
<polygon points="1091.00,379.50 1124.80,379.50 1107.90,396.90" fill="url(#tb)" opacity="0.78"/>
<rect x="1091.00" y="705.40" width="33.80" height="2.2" fill="url(#lip)"/>
<rect x="1088.00" y="376.30" width="3.00" height="331.30" fill="#000"/>
<rect x="1124.80" y="376.30" width="3.70" height="331.30" fill="#000"/>
<polygon points="1088.00,376.30 1128.50,376.30 1124.80,379.50 1091.00,379.50" fill="#555"/>
<rect x="1124.20" y="441.25" width="36.06" height="266.35" fill="url(#hy)"/>
<polygon points="1124.20,707.60 1160.26,707.60 1142.23,689.07" fill="url(#bty)"/>
<polygon points="1124.20,441.25 1160.26,441.25 1142.23,459.78" fill="url(#ty)"/>
<rect x="1124.20" y="441.25" width="36.06" height="146.75" fill="url(#py1)"/>
<rect x="1124.20" y="588.00" width="36.06" height="119.60" fill="url(#py2)"/>
<polygon points="1124.20,441.25 1160.26,441.25 1142.23,459.78" fill="url(#ty)" opacity="0.22"/>
<rect x="1124.20" y="705.40" width="36.06" height="2.2" fill="url(#lip)"/>
<rect x="1160.26" y="662.50" width="36.64" height="45.10" fill="url(#hg)"/>
<polygon points="1160.26,707.60 1196.90,707.60 1178.58,688.78" fill="url(#btg)"/>
<polygon points="1160.26,662.50 1196.90,662.50 1178.58,681.32" fill="url(#tg)"/>
<rect x="1160.26" y="662.50" width="36.64" height="45.10" fill="url(#pg2)"/>
<polygon points="1160.26,662.50 1196.90,662.50 1178.58,681.32" fill="url(#tg)" opacity="0.22"/>
<rect x="1160.26" y="705.40" width="36.64" height="2.2" fill="url(#lip)"/>
<rect x="1232.40" y="167.50" width="37.10" height="540.10" fill="url(#hp)"/>
<polygon points="1232.40,707.60 1269.50,707.60 1250.95,688.55" fill="url(#btp)"/>
<polygon points="1232.40,167.50 1269.50,167.50 1250.95,186.55" fill="url(#tp)"/>
<rect x="1232.40" y="167.50" width="37.10" height="420.50" fill="url(#pp1)"/>
<rect x="1232.40" y="588.00" width="37.10" height="119.60" fill="url(#pp2)"/>
<polygon points="1232.40,167.50 1269.50,167.50 1250.95,186.55" fill="url(#tp)" opacity="0.22"/>
<rect x="1232.40" y="705.40" width="37.10" height="2.2" fill="url(#lip)"/>
<rect x="1270.93" y="136.20" width="35.77" height="571.40" fill="url(#hb)"/>
<polygon points="1272.80,707.60 1305.10,707.60 1288.95,690.95" fill="url(#btb)"/>
<polygon points="1272.80,137.70 1305.10,137.70 1288.95,154.35" fill="url(#tb)"/>
<rect x="1272.80" y="137.70" width="32.30" height="450.30" fill="url(#pb1)"/>
<rect x="1272.80" y="588.00" width="32.30" height="119.60" fill="url(#pb2)"/>
<polygon points="1272.80,137.70 1305.10,137.70 1288.95,154.35" fill="url(#tb)" opacity="0.78"/>
<rect x="1272.80" y="705.40" width="32.30" height="2.2" fill="url(#lip)"/>
<rect x="1269.06" y="134.50" width="3.74" height="573.10" fill="#000"/>
<rect x="1305.10" y="134.50" width="3.20" height="573.10" fill="#000"/>
<polygon points="1269.06,134.50 1308.30,134.50 1305.10,137.70 1272.80,137.70" fill="#555"/>
<rect x="1305.50" y="632.50" width="37.00" height="75.10" fill="url(#hy)"/>
<polygon points="1305.50,707.60 1342.50,707.60 1324.00,688.60" fill="url(#bty)"/>
<polygon points="1305.50,632.50 1342.50,632.50 1324.00,651.50" fill="url(#ty)"/>
<rect x="1305.50" y="632.50" width="37.00" height="75.10" fill="url(#py2)"/>
<polygon points="1305.50,632.50 1342.50,632.50 1324.00,651.50" fill="url(#ty)" opacity="0.22"/>
<rect x="1305.50" y="705.40" width="37.00" height="2.2" fill="url(#lip)"/>
<rect x="1342.50" y="680.00" width="36.90" height="27.60" fill="url(#hg)"/>
<polygon points="1342.50,707.60 1379.40,707.60 1360.95,693.80" fill="url(#btg)"/>
<polygon points="1342.50,680.00 1379.40,680.00 1360.95,693.80" fill="url(#tg)"/>
<rect x="1342.50" y="680.00" width="36.90" height="27.60" fill="url(#pg2)"/>
<polygon points="1342.50,680.00 1379.40,680.00 1360.95,693.80" fill="url(#tg)" opacity="0.22"/>
<rect x="1342.50" y="705.40" width="36.90" height="2.2" fill="url(#lip)"/>
<g clip-path="url(#plotclip)">
<path d="M150.37 100.00V211.00" stroke="#5c5c5c" stroke-width="2.8" fill="none"/>
<path d="M141.57 100.00H159.17M141.57 211.00H159.17" stroke="#5c5c5c" stroke-width="2.9" fill="none"/>
<path d="M187.05 11.00V120.00" stroke="#5c5c5c" stroke-width="2.8" fill="none"/>
<path d="M178.25 11.00H195.85M178.25 120.00H195.85" stroke="#5c5c5c" stroke-width="2.9" fill="none"/>
<path d="M223.73 487.00V577.00" stroke="#5c5c5c" stroke-width="2.8" fill="none"/>
<path d="M214.93 487.00H232.53M214.93 577.00H232.53" stroke="#5c5c5c" stroke-width="2.9" fill="none"/>
<path d="M260.41 646.50V653.50" stroke="#5c5c5c" stroke-width="2.8" fill="none"/>
<path d="M251.61 646.50H269.21M251.61 653.50H269.21" stroke="#5c5c5c" stroke-width="2.9" fill="none"/>
<path d="M333.75 305.25V416.00" stroke="#5c5c5c" stroke-width="2.8" fill="none"/>
<path d="M324.95 305.25H342.55M324.95 416.00H342.55" stroke="#5c5c5c" stroke-width="2.9" fill="none"/>
<path d="M370.43 134.50V243.50" stroke="#5c5c5c" stroke-width="2.8" fill="none"/>
<path d="M361.63 134.50H379.23M361.63 243.50H379.23" stroke="#5c5c5c" stroke-width="2.9" fill="none"/>
<path d="M407.11 287.00V377.00" stroke="#5c5c5c" stroke-width="2.8" fill="none"/>
<path d="M398.31 287.00H415.91M398.31 377.00H415.91" stroke="#5c5c5c" stroke-width="2.9" fill="none"/>
<path d="M443.79 656.00V664.25" stroke="#5c5c5c" stroke-width="2.8" fill="none"/>
<path d="M434.99 656.00H452.59M434.99 664.25H452.59" stroke="#5c5c5c" stroke-width="2.9" fill="none"/>
<path d="M517.13 153.25V264.50" stroke="#5c5c5c" stroke-width="2.8" fill="none"/>
<path d="M508.33 153.25H525.93M508.33 264.50H525.93" stroke="#5c5c5c" stroke-width="2.9" fill="none"/>
<path d="M553.81 278.50V387.75" stroke="#5c5c5c" stroke-width="2.8" fill="none"/>
<path d="M545.01 278.50H562.61M545.01 387.75H562.61" stroke="#5c5c5c" stroke-width="2.9" fill="none"/>
<path d="M590.49 626.70V720.00" stroke="#5c5c5c" stroke-width="2.8" fill="none"/>
<path d="M581.69 626.70H599.29M581.69 720.00H599.29" stroke="#5c5c5c" stroke-width="2.9" fill="none"/>
<path d="M627.17 667.90V675.30" stroke="#5c5c5c" stroke-width="2.8" fill="none"/>
<path d="M618.37 667.90H635.97M618.37 675.30H635.97" stroke="#5c5c5c" stroke-width="2.9" fill="none"/>
<path d="M700.51 464.00V574.25" stroke="#5c5c5c" stroke-width="2.8" fill="none"/>
<path d="M691.71 464.00H709.31M691.71 574.25H709.31" stroke="#5c5c5c" stroke-width="2.9" fill="none"/>
<path d="M737.19 341.25V449.50" stroke="#5c5c5c" stroke-width="2.8" fill="none"/>
<path d="M728.39 341.25H745.99M728.39 449.50H745.99" stroke="#5c5c5c" stroke-width="2.9" fill="none"/>
<path d="M773.87 478.25V568.00" stroke="#5c5c5c" stroke-width="2.8" fill="none"/>
<path d="M765.07 478.25H782.67M765.07 568.00H782.67" stroke="#5c5c5c" stroke-width="2.9" fill="none"/>
<path d="M810.55 672.00V679.75" stroke="#5c5c5c" stroke-width="2.8" fill="none"/>
<path d="M801.75 672.00H819.35M801.75 679.75H819.35" stroke="#5c5c5c" stroke-width="2.9" fill="none"/>
<path d="M883.89 373.25V483.25" stroke="#5c5c5c" stroke-width="2.8" fill="none"/>
<path d="M875.09 373.25H892.69M875.09 483.25H892.69" stroke="#5c5c5c" stroke-width="2.9" fill="none"/>
<path d="M920.57 380.00V488.75" stroke="#5c5c5c" stroke-width="2.8" fill="none"/>
<path d="M911.77 380.00H929.37M911.77 488.75H929.37" stroke="#5c5c5c" stroke-width="2.9" fill="none"/>
<path d="M957.25 387.25V476.50" stroke="#5c5c5c" stroke-width="2.8" fill="none"/>
<path d="M948.45 387.25H966.05M948.45 476.50H966.05" stroke="#5c5c5c" stroke-width="2.9" fill="none"/>
<path d="M993.93 663.00V670.75" stroke="#5c5c5c" stroke-width="2.8" fill="none"/>
<path d="M985.13 663.00H1002.73M985.13 670.75H1002.73" stroke="#5c5c5c" stroke-width="2.9" fill="none"/>
<path d="M1067.27 377.25V487.25" stroke="#5c5c5c" stroke-width="2.8" fill="none"/>
<path d="M1058.47 377.25H1076.07M1058.47 487.25H1076.07" stroke="#5c5c5c" stroke-width="2.9" fill="none"/>
<path d="M1103.95 322.75V431.25" stroke="#5c5c5c" stroke-width="2.8" fill="none"/>
<path d="M1095.15 322.75H1112.75M1095.15 431.25H1112.75" stroke="#5c5c5c" stroke-width="2.9" fill="none"/>
<path d="M1140.63 396.25V485.25" stroke="#5c5c5c" stroke-width="2.8" fill="none"/>
<path d="M1131.83 396.25H1149.43M1131.83 485.25H1149.43" stroke="#5c5c5c" stroke-width="2.9" fill="none"/>
<path d="M1177.31 658.25V666.00" stroke="#5c5c5c" stroke-width="2.8" fill="none"/>
<path d="M1168.51 658.25H1186.11M1168.51 666.00H1186.11" stroke="#5c5c5c" stroke-width="2.9" fill="none"/>
<path d="M1250.65 112.00V222.25" stroke="#5c5c5c" stroke-width="2.8" fill="none"/>
<path d="M1241.85 112.00H1259.45M1241.85 222.25H1259.45" stroke="#5c5c5c" stroke-width="2.9" fill="none"/>
<path d="M1287.33 81.75V190.25" stroke="#5c5c5c" stroke-width="2.8" fill="none"/>
<path d="M1278.53 81.75H1296.13M1278.53 190.25H1296.13" stroke="#5c5c5c" stroke-width="2.9" fill="none"/>
<path d="M1324.01 587.25V676.50" stroke="#5c5c5c" stroke-width="2.8" fill="none"/>
<path d="M1315.21 587.25H1332.81M1315.21 676.50H1332.81" stroke="#5c5c5c" stroke-width="2.9" fill="none"/>
<path d="M1360.69 676.50V684.00" stroke="#5c5c5c" stroke-width="2.8" fill="none"/>
<path d="M1351.89 676.50H1369.49M1351.89 684.00H1369.49" stroke="#5c5c5c" stroke-width="2.9" fill="none"/>
</g>
<rect x="113" y="0" width="2" height="710" fill="#767676"/>
<rect x="114" y="0" width="1284" height="1" fill="#000"/>
<rect x="1397" y="0" width="1" height="709.7" fill="#000"/>
<g opacity="0.999">
<text x="89.0" y="717.40" text-anchor="end" font-size="26.1" textLength="14.1" lengthAdjust="spacingAndGlyphs">0</text>
<text x="89.0" y="634.19" text-anchor="end" font-size="26.1" textLength="42.2" lengthAdjust="spacingAndGlyphs">200</text>
<text x="89.0" y="550.99" text-anchor="end" font-size="26.1" textLength="42.2" lengthAdjust="spacingAndGlyphs">400</text>
<text x="89.0" y="467.78" text-anchor="end" font-size="26.1" textLength="42.2" lengthAdjust="spacingAndGlyphs">600</text>
<text x="89.0" y="384.58" text-anchor="end" font-size="26.1" textLength="42.2" lengthAdjust="spacingAndGlyphs">800</text>
<text x="89.0" y="301.37" text-anchor="end" font-size="26.1" textLength="56.2" lengthAdjust="spacingAndGlyphs">1000</text>
<text x="89.0" y="218.16" text-anchor="end" font-size="26.1" textLength="56.2" lengthAdjust="spacingAndGlyphs">1200</text>
<text x="89.0" y="134.96" text-anchor="end" font-size="26.1" textLength="56.2" lengthAdjust="spacingAndGlyphs">1400</text>
<text x="89.0" y="51.75" text-anchor="end" font-size="26.1" textLength="56.2" lengthAdjust="spacingAndGlyphs">1600</text>
<text x="142.3" y="758.5" font-size="26.0" textLength="127.0" lengthAdjust="spacingAndGlyphs" xml:space="preserve"><tspan font-size="29.3">V</tspan>ariant  <tspan font-size="29.3">1</tspan></text>
<text x="154.1" y="797.9" font-size="29.3" textLength="102.5" lengthAdjust="spacingAndGlyphs">SM+TW</text>
<text x="328.8" y="758.5" font-size="26.0" textLength="120.2" lengthAdjust="spacingAndGlyphs" xml:space="preserve"><tspan font-size="29.3">V</tspan>ariant <tspan font-size="29.3">2</tspan></text>
<text x="344.4" y="797.9" font-size="29.3" textLength="89.5" lengthAdjust="spacingAndGlyphs">SM+ES</text>
<text x="512.3" y="758.5" font-size="26.0" textLength="120.2" lengthAdjust="spacingAndGlyphs" xml:space="preserve"><tspan font-size="29.3">V</tspan>ariant <tspan font-size="29.3">3</tspan></text>
<text x="520.4" y="797.9" font-size="29.3" textLength="103.3" lengthAdjust="spacingAndGlyphs">SM+MP</text>
<text x="695.9" y="758.5" font-size="26.0" textLength="119.7" lengthAdjust="spacingAndGlyphs" xml:space="preserve"><tspan font-size="29.3">V</tspan>ariant <tspan font-size="29.3">4</tspan></text>
<text x="678.1" y="797.9" font-size="29.3" textLength="153.6" lengthAdjust="spacingAndGlyphs">SM+US+TW</text>
<text x="878.7" y="758.5" font-size="26.0" textLength="119.6" lengthAdjust="spacingAndGlyphs" xml:space="preserve"><tspan font-size="29.3">V</tspan>ariant <tspan font-size="29.3">5</tspan></text>
<text x="868.1" y="797.9" font-size="29.3" textLength="140.6" lengthAdjust="spacingAndGlyphs">SM+US+ES</text>
<text x="1062.0" y="758.5" font-size="26.0" textLength="120.2" lengthAdjust="spacingAndGlyphs" xml:space="preserve"><tspan font-size="29.3">V</tspan>ariant <tspan font-size="29.3">6</tspan></text>
<text x="1044.4" y="797.9" font-size="29.3" textLength="154.2" lengthAdjust="spacingAndGlyphs">SM+US+MP</text>
<text x="1245.5" y="758.5" font-size="26.0" textLength="119.0" lengthAdjust="spacingAndGlyphs" xml:space="preserve"><tspan font-size="29.3">V</tspan>ariant <tspan font-size="29.3">7</tspan></text>
<text x="1238.0" y="797.9" font-size="29.3" textLength="132.1" lengthAdjust="spacingAndGlyphs">SM+S+TW</text>
<text x="365.6" y="849.3" font-size="28.4" textLength="174.3" lengthAdjust="spacingAndGlyphs">bulk material</text>
<text x="602.5" y="849.3" font-size="28.4" textLength="155.3" lengthAdjust="spacingAndGlyphs">rhizosphere</text>
<text x="821.0" y="849.3" font-size="28.4" textLength="152.3" lengthAdjust="spacingAndGlyphs">in the roots</text>
<text x="1049.7" y="849.3" font-size="28.4" textLength="219.1" lengthAdjust="spacingAndGlyphs">in the aerial part</text>
<rect x="341.10" y="833.00" width="17.70" height="17.70" fill="url(#hp)"/>
<polygon points="341.10,850.70 358.80,850.70 349.95,841.85" fill="url(#btp)"/>
<polygon points="341.10,833.00 358.80,833.00 349.95,841.85" fill="url(#tp)"/>
<rect x="341.10" y="833.00" width="17.70" height="17.70" fill="url(#ppL)"/>
<polygon points="341.10,833.00 358.80,833.00 349.95,841.85" fill="url(#tp)" opacity="0.3"/>
<rect x="341.10" y="848.30" width="17.70" height="2.4" fill="url(#lip2)"/>
<rect x="580.30" y="834.70" width="13.90" height="14.20" fill="url(#hb)"/>
<polygon points="580.30,848.90 594.20,848.90 587.25,841.80" fill="url(#btb)"/>
<polygon points="580.30,834.70 594.20,834.70 587.25,841.80" fill="url(#tb)"/>
<rect x="580.30" y="834.70" width="13.90" height="14.20" fill="url(#pbL)"/>
<polygon points="580.30,834.70 594.20,834.70 587.25,841.80" fill="url(#tb)" opacity="0.6"/>
<rect x="580.30" y="846.50" width="13.90" height="2.4" fill="url(#lip2)"/>
<path d="M576.6 831.0H597.9V852.6H576.6Z M580.30 834.70V848.90H594.20V834.70Z" fill="#000" fill-rule="evenodd"/>
<polygon points="576.6,831.0 597.9,831.0 594.20,834.70 580.30,834.70" fill="#595959"/>
<polygon points="576.6,852.6 597.9,852.6 594.20,848.90 580.30,848.90" fill="#1a1512"/>
<rect x="797.00" y="833.00" width="17.30" height="17.70" fill="url(#hy)"/>
<polygon points="797.00,850.70 814.30,850.70 805.65,841.85" fill="url(#bty)"/>
<polygon points="797.00,833.00 814.30,833.00 805.65,841.85" fill="url(#ty)"/>
<rect x="797.00" y="833.00" width="17.30" height="17.70" fill="url(#pyL)"/>
<polygon points="797.00,833.00 814.30,833.00 805.65,841.85" fill="url(#ty)" opacity="0.3"/>
<rect x="797.00" y="848.30" width="17.30" height="2.4" fill="url(#lip2)"/>
<rect x="1011.10" y="833.00" width="17.90" height="17.70" fill="url(#hg)"/>
<polygon points="1011.10,850.70 1029.00,850.70 1020.05,841.85" fill="url(#btg)"/>
<polygon points="1011.10,833.00 1029.00,833.00 1020.05,841.85" fill="url(#tg)"/>
<rect x="1011.10" y="833.00" width="17.90" height="17.70" fill="url(#pgL)"/>
<polygon points="1011.10,833.00 1029.00,833.00 1020.05,841.85" fill="url(#tg)" opacity="0.3"/>
<rect x="1011.10" y="848.30" width="17.90" height="2.4" fill="url(#lip2)"/>
<text transform="translate(24.1 519.7) rotate(-90)" style="font-family:'Liberation Serif',serif" font-size="32.5" textLength="324.5" lengthAdjust="spacingAndGlyphs">Concentration (mg kg<tspan dy="-10.4" font-size="19.5">-1</tspan><tspan dy="10.4">)</tspan></text>
</g>
</svg>
</body></html>
